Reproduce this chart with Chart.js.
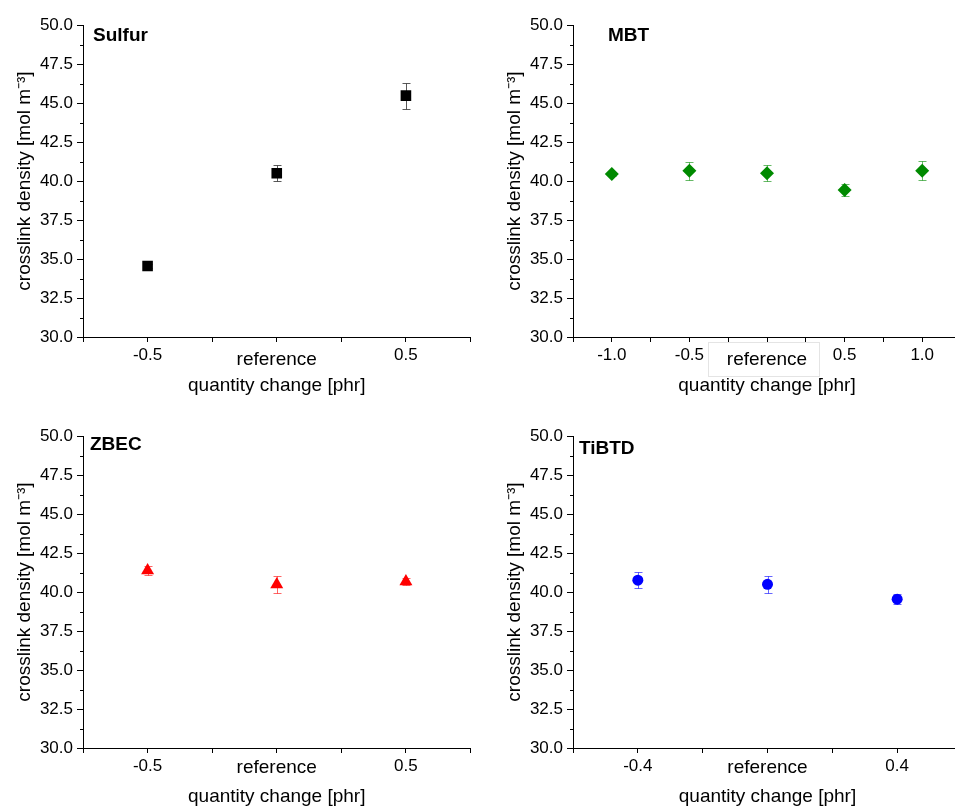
<!DOCTYPE html>
<html>
<head>
<meta charset="utf-8">
<script src="https://cdn.jsdelivr.net/npm/chart.js@4.4.1/dist/chart.umd.min.js"></script>
<style>
  html, body { margin: 0; padding: 0; background: #fff; width: 955px; height: 807px; overflow: hidden; }
  canvas { position: absolute; }
</style>
</head>
<body>
<canvas id="cSulfur" width="478" height="400" style="left:0;top:0"></canvas>
<canvas id="cMbt" width="478" height="400" style="left:490px;top:0"></canvas>
<canvas id="cZbec" width="478" height="400" style="left:0;top:411px"></canvas>
<canvas id="cTibtd" width="478" height="400" style="left:490px;top:411px"></canvas>
<script>
const FONT = '"Liberation Sans", Arial, Helvetica, sans-serif';

// y axis (same for all panels)
const yTicks = [30, 32.5, 35, 37.5, 40, 42.5, 45, 47.5, 50];
const yMinor = [31.25, 33.75, 36.25, 38.75, 41.25, 43.75, 46.25, 48.75];

// Sulfur
const sulfurX   = [-0.5, 0, 0.5];
const sulfurY   = [34.55, 40.5, 45.47];
const sulfurErr = [0.1, 0.53, 0.84];
const sulfurTickPos    = [-0.75, -0.5, -0.25, 0, 0.25, 0.5, 0.75];
const sulfurTickVals   = [-0.5, 0, 0.5];
const sulfurTickLabels = ['-0.5', 'reference', '0.5'];

// MBT
const mbtX   = [-1, -0.5, 0, 0.5, 1];
const mbtY   = [40.45, 40.66, 40.49, 39.43, 40.66];
const mbtErr = [0.15, 0.57, 0.52, 0.4, 0.6];
const mbtTickPos    = [-1.25, -1, -0.75, -0.5, -0.25, 0, 0.25, 0.5, 0.75, 1, 1.25];
const mbtTickVals   = [-1, -0.5, 0, 0.5, 1];
const mbtTickLabels = ['-1.0', '-0.5', 'reference', '0.5', '1.0'];

// ZBEC
const zbecX   = [-0.5, 0, 0.5];
const zbecY   = [41.38, 40.48, 40.67];
const zbecErr = [0.3, 0.53, 0.25];
const zbecTickPos    = [-0.75, -0.5, -0.25, 0, 0.25, 0.5, 0.75];
const zbecTickVals   = [-0.5, 0, 0.5];
const zbecTickLabels = ['-0.5', 'reference', '0.5'];

// TiBTD
const tibtdX   = [-0.4, 0, 0.4];
const tibtdY   = [40.76, 40.49, 39.54];
const tibtdErr = [0.52, 0.53, 0.32];
const tibtdTickPos    = [-0.6, -0.4, -0.2, 0, 0.2, 0.4, 0.6];
const tibtdTickVals   = [-0.4, 0, 0.4];
const tibtdTickLabels = ['-0.4', 'reference', '0.4'];

const near = (a, b) => Math.abs(a - b) < 1e-6;

const errorBars = {
    id: 'errorBars',
    beforeDatasetsDraw(chart) {
        const { ctx, scales: { x, y } } = chart;
        chart.data.datasets.forEach(ds => {
            ctx.save();
            ctx.strokeStyle = ds.errColor;
            ctx.lineWidth = 1;
            ds.data.forEach(p => {
                const px = Math.round(x.getPixelForValue(p.x)) + 0.5;
                const top = Math.round(y.getPixelForValue(p.y + p.err)) + 0.5;
                const bot = Math.round(y.getPixelForValue(p.y - p.err)) + 0.5;
                ctx.beginPath();
                ctx.moveTo(px, top); ctx.lineTo(px, bot);
                ctx.moveTo(px - 4, top); ctx.lineTo(px + 4, top);
                ctx.moveTo(px - 4, bot); ctx.lineTo(px + 4, bot);
                ctx.stroke();
            });
            ctx.restore();
        });
    }
};

const decorations = {
    id: 'decorations',
    afterDraw(chart, args, opts) {
        const { ctx, chartArea, scales: { x, y } } = chart;
        ctx.save();
        // minor y ticks
        ctx.strokeStyle = '#000';
        ctx.lineWidth = 1;
        ctx.beginPath();
        yMinor.forEach(v => {
            const py = Math.round(y.getPixelForValue(v)) + 0.5;
            ctx.moveTo(chartArea.left - 3, py); ctx.lineTo(chartArea.left, py);
        });
        ctx.stroke();
        // panel label
        ctx.fillStyle = '#000';
        ctx.font = 'bold 19px ' + FONT;
        ctx.textBaseline = 'middle';
        ctx.textAlign = 'left';
        ctx.fillText(opts.text, chartArea.left + opts.dx, chartArea.top + opts.dy);
        // faint box round the reference label
        if (opts.refBox) {
            const px = x.getPixelForValue(0);
            ctx.strokeStyle = '#e4e4e4';
            ctx.strokeRect(Math.round(px - 59) + 0.5, chartArea.bottom + 5.5, 111, 34);
        }
        ctx.restore();
    }
};

function makePanel(id, xs, ys, errs, style, radius, color, errColor, xMin, xMax, tickPos, tickVals, tickLabels, label, refLH) {
    const isRef = v => near(v, 0);
    new Chart(document.getElementById(id), {
        type: 'scatter',
        data: {
            datasets: [{
                data: xs.map((x, i) => ({ x: x, y: ys[i], err: errs[i] })),
                pointStyle: style,
                pointRadius: radius,
                pointHoverRadius: radius,
                pointBackgroundColor: color,
                pointBorderWidth: 0,
                borderWidth: 0,
                errColor: errColor
            }]
        },
        options: {
            responsive: false,
            animation: false,
            devicePixelRatio: 1,
            layout: { padding: { top: 25, right: 6, left: 0, bottom: 0 } },
            plugins: {
                legend: { display: false },
                tooltip: { enabled: false },
                decorations: { text: label.text, dx: label.dx, dy: label.dy, refBox: label.refBox }
            },
            scales: {
                x: {
                    type: 'linear',
                    min: xMin,
                    max: xMax,
                    afterFit: s => { s.height = 63; },
                    afterBuildTicks: s => { s.ticks = tickPos.map(v => ({ value: v })); },
                    grid: { display: true, drawOnChartArea: false, drawTicks: true, tickLength: 5, tickColor: '#000', tickWidth: 1 },
                    border: { display: true, color: '#000', width: 1 },
                    ticks: {
                        autoSkip: false,
                        maxRotation: 0,
                        padding: 3,
                        color: '#000',
                        font: ctx => (ctx.tick && isRef(ctx.tick.value))
                            ? { family: FONT, size: 19, lineHeight: refLH }
                            : { family: FONT, size: 17, lineHeight: 1.2 },
                        callback: v => {
                            const i = tickVals.findIndex(t => near(t, v));
                            return i >= 0 ? tickLabels[i] : '';
                        }
                    },
                    title: {
                        display: true,
                        text: 'quantity change [phr]',
                        color: '#000',
                        font: { family: FONT, size: 19 },
                        padding: { top: 0, bottom: 3 }
                    }
                },
                y: {
                    type: 'linear',
                    min: 30,
                    max: 50,
                    afterFit: s => { s.width = 83; },
                    afterBuildTicks: s => { s.ticks = yTicks.map(v => ({ value: v })); },
                    grid: { display: true, drawOnChartArea: false, drawTicks: true, tickLength: 6, tickColor: '#000', tickWidth: 1 },
                    border: { display: true, color: '#000', width: 1 },
                    ticks: {
                        padding: 4,
                        color: '#000',
                        font: { family: FONT, size: 17 },
                        callback: v => v.toFixed(1)
                    },
                    title: {
                        display: true,
                        text: 'crosslink density [mol m\u207B\u00B3]',
                        color: '#000',
                        font: { family: FONT, size: 19 },
                        padding: { top: 13, bottom: 0 }
                    }
                }
            }
        },
        plugins: [errorBars, decorations]
    });
}

makePanel('cSulfur', sulfurX, sulfurY, sulfurErr, 'rect', 7.5, '#000000', 'rgba(60,60,60,0.85)',
    -0.75, 0.75, sulfurTickPos, sulfurTickVals, sulfurTickLabels,
    { text: 'Sulfur', dx: 10, dy: 11, refBox: false }, 1.58);

makePanel('cMbt', mbtX, mbtY, mbtErr, 'rectRot', 7, '#008a00', 'rgba(0,138,0,0.6)',
    -1.25, 1.25, mbtTickPos, mbtTickVals, mbtTickLabels,
    { text: 'MBT', dx: 35, dy: 11, refBox: true }, 1.58);

makePanel('cZbec', zbecX, zbecY, zbecErr, 'triangle', 7.5, '#ff0000', 'rgba(255,0,0,0.6)',
    -0.75, 0.75, zbecTickPos, zbecTickVals, zbecTickLabels,
    { text: 'ZBEC', dx: 7, dy: 9, refBox: false }, 1.26);

makePanel('cTibtd', tibtdX, tibtdY, tibtdErr, 'circle', 5.5, '#0000ff', 'rgba(0,0,255,0.6)',
    -0.6, 0.6, tibtdTickPos, tibtdTickVals, tibtdTickLabels,
    { text: 'TiBTD', dx: 6, dy: 13, refBox: false }, 1.26);
</script>
</body>
</html>
